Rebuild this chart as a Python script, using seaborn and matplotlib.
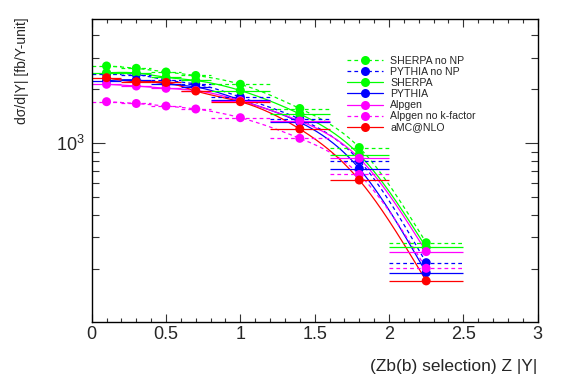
import numpy as np
import pandas as pd
import matplotlib
matplotlib.use("Agg")
import matplotlib.pyplot as plt
from matplotlib.lines import Line2D
from matplotlib.ticker import MultipleLocator, LogLocator, NullFormatter, FixedLocator, FixedFormatter
import seaborn as sns

# bins in |Y|
bin_edges = [0.0, 0.2, 0.4, 0.6, 0.8, 1.2, 1.6, 2.0, 2.5]
bin_centers = [0.1, 0.3, 0.5, 0.7, 1.0, 1.4, 1.8, 2.25]

# cross sections [fb/Y-unit]
sherpa_nonp = [2698, 2618, 2497, 2388, 2133, 1563, 947, 279]
pythia_nonp = [2432, 2418, 2253, 2141, 1810, 1366, 800, 216]
sherpa = [2474, 2466, 2333, 2239, 1969, 1457, 864, 263]
pythia = [2233, 2253, 2141, 2060, 1743, 1309, 722, 190]
alpgen = [2133, 2086, 2026, 1969, 1728, 1331, 825, 249]
alpgen_nok = [1706, 1667, 1614, 1553, 1389, 1066, 670, 201]
amcnlo = [2321, 2205, 2183, 1957, 1706, 1201, 624, 171]

names = ["SHERPA no NP", "PYTHIA no NP", "SHERPA", "PYTHIA",
         "Alpgen", "Alpgen no k-factor", "aMC@NLO"]
values = [sherpa_nonp, pythia_nonp, sherpa, pythia, alpgen, alpgen_nok, amcnlo]
colors = ["#00ff00", "#0000ff", "#00ff00", "#0000ff", "#ff00ff", "#ff00ff", "#ff0000"]
dashed = [True, True, False, False, False, True, False]

DASH = (3, 2.5)


def smooth(x, y, xs):
    # natural cubic spline through the points (in log y), like ROOT's "C" option
    x = np.asarray(x, float)
    y = np.log10(np.asarray(y, float))
    n = len(x)
    h = np.diff(x)
    A = np.zeros((n, n))
    r = np.zeros(n)
    A[0, 0] = A[-1, -1] = 1
    for i in range(1, n - 1):
        A[i, i - 1] = h[i - 1]
        A[i, i] = 2 * (h[i - 1] + h[i])
        A[i, i + 1] = h[i]
        r[i] = 6 * ((y[i + 1] - y[i]) / h[i] - (y[i] - y[i - 1]) / h[i - 1])
    M = np.linalg.solve(A, r)
    i = np.clip(np.searchsorted(x, xs) - 1, 0, n - 2)
    hi = h[i]
    s = (M[i] * (x[i + 1] - xs) ** 3 / (6 * hi) + M[i + 1] * (xs - x[i]) ** 3 / (6 * hi)
         + (y[i] / hi - M[i] * hi / 6) * (x[i + 1] - xs)
         + (y[i + 1] / hi - M[i + 1] * hi / 6) * (xs - x[i]))
    return 10 ** s


sns.set_style("ticks")
plt.rcParams["font.family"] = ["Liberation Sans", "DejaVu Sans"]
plt.rcParams["mathtext.fontset"] = "custom"
plt.rcParams["mathtext.rm"] = "Liberation Sans"

fig = plt.figure(figsize=(5.67, 3.84), dpi=100)
ax = fig.add_axes([0.1617, 0.1607, 0.7866, 0.7898])

palette = dict(zip(names, colors))
dash_map = {n: (DASH if d else "") for n, d in zip(names, dashed)}

# smooth curves
xs = np.linspace(bin_centers[0], bin_centers[-1], 300)
curves = pd.concat([pd.DataFrame({"x": xs, "y": smooth(bin_centers, v, xs), "series": n})
                    for n, v in zip(names, values)])
sns.lineplot(data=curves, x="x", y="y", hue="series", style="series", palette=palette,
             dashes=dash_map, estimator=None, sort=False, lw=0.9, legend=False, ax=ax)

# horizontal bin-width bars
lo = np.array(bin_edges[:-1])
hi = np.array(bin_edges[1:])
for n, v, c, d in zip(names, values, colors, dashed):
    ax.hlines(v, lo, hi, colors=c, lw=0.9,
              linestyles=(0, DASH) if d else "solid", zorder=2)

# markers
pts = pd.concat([pd.DataFrame({"x": bin_centers, "y": v, "series": n})
                 for n, v in zip(names, values)])
sns.scatterplot(data=pts, x="x", y="y", hue="series", palette=palette, s=42,
                linewidth=0, legend=False, zorder=3, ax=ax)

ax.set_yscale("log")
ax.set_xlim(0, 3)
ax.set_ylim(100.5, 4930)
ax.xaxis.set_major_locator(FixedLocator([0, 0.5, 1, 1.5, 2, 2.5, 3]))
ax.xaxis.set_major_formatter(FixedFormatter(["0", "0.5", "1", "1.5", "2", "2.5", "3"]))
ax.xaxis.set_minor_locator(MultipleLocator(0.1))
ax.yaxis.set_major_locator(LogLocator(base=10))
ax.yaxis.set_minor_locator(LogLocator(base=10, subs=np.arange(2, 10)))
ax.yaxis.set_minor_formatter(NullFormatter())
ax.set_xlabel("")
ax.set_ylabel("")
ax.tick_params(axis="both", which="both", direction="in", top=True, right=True,
               width=0.8, color="#333333", labelsize=13)
ax.tick_params(axis="x", which="major", length=6, pad=3)
ax.tick_params(axis="x", which="minor", length=3)
ax.tick_params(axis="y", which="major", length=9.5, pad=5)
ax.tick_params(axis="y", which="minor", length=5)
for sp in ax.spines.values():
    sp.set_linewidth(1.0)
    sp.set_color("black")

fig.text(537 / 567, 1 - 366 / 384, "(Zb(b) selection) Z |Y|", ha="right", va="center", fontsize=12.5)
fig.text(22 / 567, 1 - 17 / 384, "d\u03c3/d|Y| [fb/Y-unit]", rotation=90, ha="center", va="top", fontsize=10)

handles = [Line2D([0], [0], color=c, lw=0.9, ls=(0, DASH) if d else "-",
                  marker="o", markersize=6.5, markeredgewidth=0)
           for c, d in zip(colors, dashed)]
leg = fig.legend(handles, names, loc="upper left", bbox_to_anchor=(347 / 567, 1 - 56 / 384),
                 frameon=False, fontsize=7.6, borderpad=0, borderaxespad=0,
                 handlelength=3.4, handletextpad=0.7, labelspacing=0.1)

fig.savefig("out.png", dpi=100)
